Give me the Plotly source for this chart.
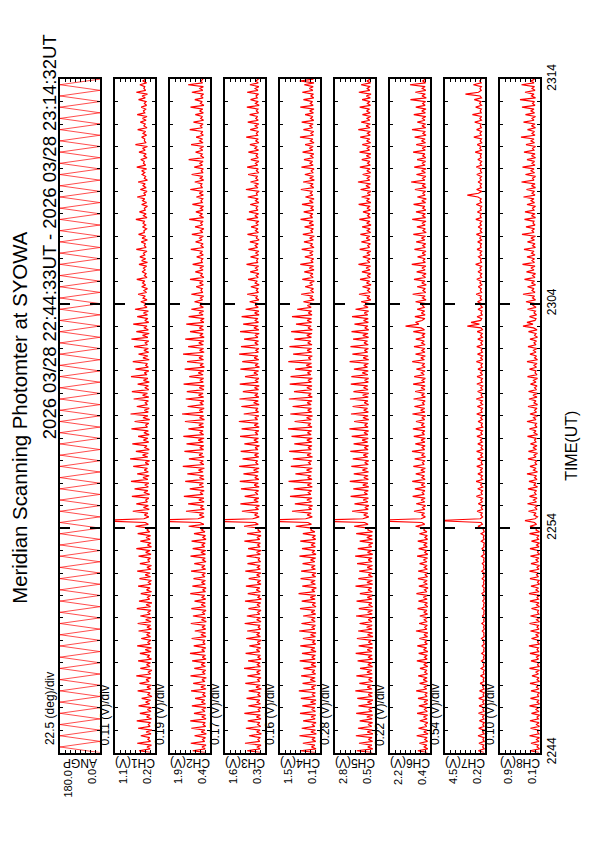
import plotly.graph_objects as go
import pandas as pd

T0 = "2026-03-28 22:44:00"
T1 = "2026-03-28 23:14:00"

panel_names = ["ANGP", "CH1(V)", "CH2(V)", "CH3(V)", "CH4(V)", "CH5(V)", "CH6(V)", "CH7(V)", "CH8(V)"]
scale_labels = ["22.5 (deg)/div", "0.11 (V)/div", "0.19 (V)/div", "0.17 (V)/div", "0.16 (V)/div",
                "0.28 (V)/div", "0.22 (V)/div", "0.54 (V)/div", "0.10 (V)/div"]
axis_hi = [180.0, 1.1, 1.9, 1.6, 1.5, 2.8, 2.2, 4.5, 0.9]
axis_lo = [0.0, 0.2, 0.4, 0.3, 0.1, 0.5, 0.4, 0.2, 0.1]

# scan angle (deg), sampled every 15 s
angp = [0, 180, 0, 180, 0, 180, 0, 180, 0, 180, 0, 180, 0, 180, 0, 180, 0, 180, 0, 180,
        0, 180, 0, 180, 0, 180, 0, 180, 0, 180, 0, 180, 0, 180, 0, 180, 0, 180, 0, 180,
        0, 180, 0, 180, 0, 180, 0, 180, 0, 180, 0, 180, 0, 180, 0, 180, 0, 180, 0, 180,
        0, 180, 0, 180, 0, 180, 0, 180, 0, 180, 0, 180, 0, 180, 0, 180, 0, 180, 0, 180,
        0, 180, 0, 180, 0, 180, 0, 180, 0, 180, 0, 180, 0, 180, 0, 180, 0, 180, 0, 180,
        0, 180, 0, 180, 0, 180, 0, 180, 0, 180, 0, 180, 0, 180, 0, 180, 0, 180, 0, 180, 0]

# channel voltages (V), sampled every 5 s from 22:44:00 (one row = 2 minutes)
ch1 = [0.29,0.56,0.31,0.38,0.28,0.60,0.30,0.36,0.32,0.52,0.29,0.40,0.27,0.58,0.31,0.35,0.30,0.61,0.28,0.39,0.31,0.54,0.29,0.37,
       0.28,0.57,0.32,0.41,0.30,0.50,0.27,0.36,0.31,0.59,0.29,0.38,0.28,0.55,0.33,0.40,0.29,0.62,0.30,0.35,0.27,0.53,0.31,0.39,
       0.30,0.58,0.28,0.37,0.32,0.54,0.29,0.42,0.28,0.60,0.31,0.36,0.29,0.51,0.30,0.39,0.31,0.57,0.28,0.38,0.30,0.59,0.29,0.41,
       0.28,0.53,0.31,0.36,0.29,0.61,0.30,0.40,0.27,0.56,0.32,0.37,0.30,0.52,0.28,0.39,0.31,0.58,0.29,0.35,0.28,0.55,0.30,0.42,
       0.31,0.60,0.29,0.38,0.28,0.54,0.32,0.36,0.30,0.57,0.29,0.41,0.31,0.62,0.28,0.37,0.29,0.53,0.31,0.40,0.30,0.59,0.32,0.38,
       0.33,0.64,0.35,0.42,1.60,0.45,0.34,0.44,0.36,0.70,0.33,0.46,0.35,0.62,0.37,0.41,0.34,0.72,0.32,0.45,0.36,0.66,0.35,0.43,
       0.34,0.74,0.36,0.47,0.33,0.60,0.35,0.44,0.37,0.69,0.34,0.42,0.32,0.76,0.36,0.48,0.35,0.63,0.33,0.43,0.38,0.71,0.34,0.46,
       0.36,0.58,0.33,0.45,0.35,0.73,0.37,0.41,0.34,0.66,0.32,0.47,0.36,0.75,0.35,0.44,0.33,0.61,0.37,0.42,0.35,0.68,0.34,0.48,
       0.37,0.72,0.34,0.43,0.35,0.59,0.33,0.46,0.36,0.74,0.38,0.44,0.34,0.64,0.35,0.41,0.37,0.70,0.33,0.47,0.36,0.57,0.34,0.45,
       0.35,0.67,0.37,0.42,0.34,0.73,0.36,0.48,0.33,0.62,0.35,0.44,0.38,0.69,0.34,0.43,0.36,0.60,0.37,0.46,0.35,0.65,0.38,0.44,
       0.40,0.52,0.38,0.47,0.42,0.58,0.39,0.45,0.37,0.50,0.41,0.48,0.43,0.61,0.38,0.44,0.40,0.49,0.42,0.46,0.39,0.56,0.37,0.50,
       0.41,0.54,0.43,0.46,0.38,0.62,0.40,0.44,0.42,0.51,0.37,0.49,0.41,0.57,0.44,0.45,0.39,0.48,0.41,0.47,0.43,0.63,0.38,0.46,
       0.40,0.55,0.42,0.44,0.37,0.50,0.39,0.48,0.43,0.60,0.41,0.45,0.38,0.53,0.40,0.47,0.42,0.58,0.37,0.44,0.41,0.49,0.43,0.50,
       0.39,0.61,0.41,0.46,0.44,0.52,0.38,0.45,0.40,0.56,0.42,0.48,0.37,0.64,0.40,0.44,0.43,0.50,0.39,0.47,0.41,0.59,0.38,0.45,
       0.42,0.53,0.40,0.48,0.38,0.60,0.43,0.46,0.41,0.51,0.39,0.44,0.40,0.57,0.42,0.49,0.37,0.62,0.41,0.45,0.43,0.54,0.39,0.47,0.41]
ch2 = [0.56,1.05,0.58,0.70,0.55,1.12,0.60,0.68,0.57,0.98,0.54,0.73,0.59,1.10,0.56,0.66,0.58,1.14,0.55,0.71,0.57,1.00,0.59,0.69,
       0.55,1.08,0.57,0.72,0.60,0.96,0.56,0.67,0.58,1.11,0.55,0.74,0.57,1.03,0.59,0.70,0.54,1.13,0.58,0.68,0.56,0.99,0.57,0.73,
       0.58,1.07,0.55,0.69,0.57,1.15,0.60,0.71,0.56,1.01,0.58,0.66,0.59,1.09,0.55,0.74,0.57,0.97,0.56,0.70,0.58,1.12,0.54,0.72,
       0.56,1.04,0.59,0.68,0.55,1.10,0.57,0.73,0.58,0.98,0.56,0.70,0.60,1.14,0.57,0.67,0.55,1.06,0.58,0.72,0.57,1.02,0.59,0.69,
       0.57,1.11,0.56,0.71,0.59,0.99,0.55,0.68,0.58,1.13,0.57,0.74,0.56,1.05,0.60,0.70,0.58,1.09,0.55,0.67,0.57,1.00,0.59,0.72,
       0.61,1.20,0.63,0.78,3.00,0.85,0.62,0.80,0.64,1.30,0.61,0.76,0.65,1.22,0.62,0.82,0.63,1.38,0.66,0.77,0.62,1.16,0.64,0.80,
       0.65,1.33,0.62,0.79,0.64,1.25,0.66,0.83,0.61,1.42,0.63,0.76,0.65,1.19,0.62,0.81,0.67,1.36,0.64,0.78,0.63,1.28,0.65,0.84,
       0.62,1.40,0.64,0.77,0.66,1.21,0.63,0.82,0.65,1.34,0.61,0.79,0.64,1.45,0.66,0.80,0.62,1.24,0.65,0.76,0.63,1.31,0.64,0.83,
       0.66,1.27,0.63,0.80,0.62,1.39,0.65,0.78,0.64,1.18,0.66,0.84,0.63,1.35,0.61,0.77,0.65,1.26,0.64,0.81,0.66,1.41,0.62,0.79,
       0.64,1.22,0.65,0.82,0.63,1.33,0.62,0.78,0.66,1.15,0.64,0.80,0.65,1.29,0.63,0.76,0.62,1.20,0.66,0.81,0.64,1.10,0.65,0.78,
       0.66,0.98,0.68,0.76,0.64,1.10,0.67,0.74,0.69,0.92,0.65,0.79,0.66,1.15,0.63,0.75,0.68,0.95,0.66,0.78,0.64,1.05,0.69,0.73,
       0.67,0.90,0.65,0.77,0.68,1.12,0.64,0.74,0.66,0.94,0.70,0.79,0.65,1.08,0.67,0.76,0.63,0.96,0.68,0.75,0.66,1.18,0.64,0.78,
       0.68,0.93,0.66,0.76,0.64,1.06,0.69,0.74,0.67,0.91,0.65,0.80,0.66,1.14,0.68,0.75,0.70,0.97,0.64,0.77,0.67,1.09,0.66,0.73,
       0.65,0.99,0.68,0.78,0.66,1.20,0.63,0.75,0.69,0.94,0.67,0.77,0.64,1.11,0.66,0.79,0.68,0.92,0.65,0.74,0.67,1.16,0.69,0.76,
       0.66,1.02,0.64,0.75,0.68,0.95,0.65,0.79,0.67,1.13,0.63,0.76,0.69,0.97,0.66,0.74,0.64,1.08,0.67,0.78,0.65,1.22,0.68,0.75,0.66]
ch3 = [0.44,0.88,0.46,0.55,0.43,0.95,0.47,0.53,0.45,0.82,0.42,0.57,0.46,0.92,0.44,0.54,0.47,0.86,0.43,0.58,0.45,0.97,0.46,0.52,
       0.43,0.84,0.45,0.56,0.47,0.90,0.44,0.53,0.46,0.83,0.42,0.59,0.45,0.94,0.47,0.54,0.43,0.87,0.46,0.57,0.44,0.98,0.45,0.55,
       0.46,0.85,0.43,0.53,0.45,0.93,0.47,0.58,0.44,0.81,0.46,0.55,0.42,0.91,0.45,0.56,0.47,0.88,0.44,0.52,0.46,0.96,0.43,0.57,
       0.45,0.89,0.47,0.54,0.43,0.84,0.46,0.56,0.44,0.95,0.42,0.53,0.46,0.86,0.45,0.58,0.47,0.92,0.43,0.55,0.44,0.83,0.46,0.57,
       0.43,0.94,0.45,0.55,0.46,0.87,0.44,0.52,0.47,0.90,0.45,0.57,0.42,0.85,0.46,0.54,0.45,0.97,0.47,0.56,0.43,0.88,0.44,0.53,
       0.50,0.98,0.52,0.62,2.80,0.70,0.49,0.64,0.53,1.05,0.51,0.60,0.48,1.10,0.52,0.66,0.50,0.96,0.53,0.61,0.51,1.08,0.49,0.65,
       0.52,1.12,0.50,0.63,0.53,1.00,0.51,0.67,0.49,1.14,0.52,0.60,0.54,1.03,0.50,0.64,0.51,1.09,0.53,0.62,0.48,0.97,0.52,0.66,
       0.51,1.11,0.53,0.61,0.50,1.06,0.49,0.65,0.52,1.15,0.54,0.63,0.50,0.99,0.51,0.60,0.53,1.07,0.49,0.67,0.52,1.13,0.50,0.62,
       0.53,1.02,0.51,0.64,0.49,1.12,0.52,0.61,0.50,0.95,0.53,0.66,0.51,1.10,0.48,0.62,0.52,1.04,0.50,0.65,0.53,1.14,0.51,0.60,
       0.50,1.08,0.52,0.63,0.51,0.98,0.53,0.61,0.49,1.11,0.50,0.66,0.52,1.01,0.51,0.62,0.53,1.06,0.49,0.64,0.50,0.93,0.52,0.61,
       0.52,0.80,0.50,0.60,0.54,0.88,0.51,0.58,0.53,0.76,0.49,0.62,0.55,0.85,0.52,0.59,0.50,0.78,0.53,0.61,0.51,0.90,0.54,0.57,
       0.53,0.77,0.51,0.60,0.50,0.84,0.54,0.62,0.52,0.79,0.49,0.58,0.55,0.87,0.51,0.61,0.53,0.75,0.52,0.59,0.50,0.89,0.53,0.63,
       0.51,0.82,0.53,0.59,0.54,0.78,0.50,0.61,0.52,0.86,0.55,0.58,0.49,0.92,0.53,0.62,0.51,0.77,0.52,0.60,0.54,0.85,0.50,0.58,
       0.52,0.88,0.54,0.61,0.50,0.76,0.52,0.59,0.53,0.84,0.51,0.63,0.55,0.79,0.50,0.60,0.52,0.91,0.54,0.58,0.51,0.78,0.53,0.62,
       0.50,0.86,0.52,0.60,0.54,0.80,0.51,0.58,0.53,0.89,0.49,0.61,0.52,0.77,0.55,0.59,0.51,0.88,0.53,0.62,0.50,0.79,0.52,0.60,0.51]
ch4 = [0.26,0.78,0.24,0.40,0.28,0.70,0.25,0.38,0.27,0.82,0.23,0.42,0.26,0.74,0.28,0.37,0.24,0.69,0.27,0.41,0.25,0.80,0.26,0.39,
       0.28,0.72,0.25,0.43,0.24,0.77,0.27,0.38,0.26,0.84,0.28,0.40,0.23,0.71,0.26,0.44,0.27,0.76,0.25,0.37,0.28,0.68,0.24,0.41,
       0.25,0.81,0.27,0.39,0.26,0.73,0.24,0.42,0.28,0.79,0.25,0.36,0.27,0.70,0.26,0.43,0.24,0.83,0.28,0.38,0.26,0.75,0.27,0.40,
       0.27,0.69,0.25,0.41,0.28,0.80,0.24,0.37,0.26,0.74,0.27,0.44,0.25,0.85,0.28,0.39,0.23,0.72,0.26,0.42,0.27,0.78,0.25,0.38,
       0.24,0.76,0.26,0.40,0.27,0.71,0.28,0.43,0.25,0.82,0.24,0.38,0.28,0.73,0.26,0.41,0.27,0.79,0.25,0.36,0.26,0.70,0.28,0.42,
       0.38,0.95,0.40,0.52,2.60,0.60,0.37,0.55,0.41,1.08,0.39,0.50,0.36,0.98,0.40,0.56,0.38,1.15,0.42,0.51,0.39,1.02,0.37,0.54,
       0.40,1.20,0.38,0.53,0.41,0.96,0.39,0.57,0.37,1.12,0.42,0.50,0.39,1.05,0.36,0.55,0.41,1.18,0.40,0.52,0.38,1.00,0.39,0.56,
       0.37,1.10,0.41,0.54,0.39,1.22,0.38,0.51,0.42,0.99,0.40,0.57,0.36,1.14,0.39,0.53,0.40,1.06,0.41,0.55,0.38,1.19,0.37,0.50,
       0.41,1.01,0.39,0.56,0.38,1.16,0.40,0.52,0.37,1.13,0.42,0.54,0.39,0.97,0.38,0.58,0.40,1.21,0.41,0.51,0.37,1.04,0.39,0.55,
       0.39,1.17,0.38,0.53,0.42,1.00,0.40,0.56,0.38,1.11,0.37,0.52,0.41,0.94,0.39,0.55,0.40,1.08,0.38,0.51,0.39,0.90,0.41,0.54,
       0.34,0.68,0.31,0.44,0.35,0.76,0.32,0.42,0.33,0.62,0.36,0.46,0.30,0.72,0.34,0.43,0.35,0.65,0.31,0.47,0.33,0.79,0.34,0.41,
       0.32,0.63,0.35,0.45,0.34,0.74,0.31,0.43,0.36,0.66,0.33,0.46,0.30,0.70,0.35,0.42,0.33,0.64,0.32,0.48,0.34,0.78,0.36,0.44,
       0.35,0.67,0.32,0.42,0.33,0.73,0.34,0.47,0.31,0.61,0.35,0.44,0.36,0.77,0.32,0.43,0.34,0.69,0.30,0.46,0.33,0.63,0.35,0.41,
       0.31,0.75,0.34,0.45,0.36,0.66,0.33,0.43,0.32,0.71,0.35,0.47,0.34,0.62,0.31,0.44,0.35,0.80,0.33,0.42,0.32,0.68,0.36,0.46,
       0.34,0.74,0.32,0.43,0.35,0.62,0.33,0.46,0.31,0.79,0.34,0.44,0.36,0.68,0.32,0.42,0.33,0.72,0.35,0.47,0.34,0.65,0.31,0.81,0.33]
ch5 = [0.66,1.55,0.63,0.92,0.68,1.42,0.64,0.88,0.67,1.60,0.62,0.95,0.65,1.48,0.69,0.90,0.64,1.38,0.66,0.97,0.63,1.58,0.67,0.86,
       0.65,1.45,0.68,0.93,0.62,1.52,0.66,0.89,0.64,1.63,0.67,0.94,0.69,1.40,0.63,0.87,0.66,1.57,0.65,0.96,0.68,1.36,0.64,0.91,
       0.67,1.50,0.64,0.90,0.66,1.61,0.68,0.95,0.63,1.44,0.65,0.88,0.69,1.54,0.62,0.93,0.64,1.47,0.67,0.98,0.66,1.39,0.68,0.89,
       0.63,1.59,0.66,0.92,0.65,1.43,0.64,0.87,0.68,1.56,0.67,0.94,0.62,1.37,0.66,0.90,0.69,1.62,0.63,0.96,0.65,1.46,0.64,0.88,
       0.68,1.41,0.65,0.95,0.64,1.53,0.67,0.89,0.66,1.64,0.63,0.93,0.67,1.49,0.69,0.87,0.62,1.38,0.65,0.97,0.66,1.58,0.64,0.91,
       0.88,1.70,0.90,1.10,4.50,1.20,0.86,1.15,0.92,1.82,0.89,1.08,0.85,1.68,0.91,1.18,0.88,1.90,0.93,1.12,0.89,1.75,0.86,1.20,
       0.91,1.95,0.88,1.14,0.90,1.72,0.87,1.22,0.93,1.86,0.89,1.09,0.86,1.78,0.91,1.17,0.88,1.92,0.90,1.11,0.87,1.73,0.92,1.24,
       0.89,1.84,0.91,1.13,0.87,1.97,0.90,1.10,0.92,1.70,0.86,1.19,0.90,1.88,0.88,1.15,0.93,1.79,0.87,1.12,0.91,1.94,0.89,1.21,
       0.86,1.74,0.90,1.16,0.92,1.89,0.88,1.10,0.87,1.86,0.91,1.23,0.89,1.71,0.93,1.14,0.88,1.96,0.86,1.18,0.90,1.80,0.92,1.11,
       0.88,1.91,0.89,1.13,0.93,1.76,0.87,1.20,0.90,1.85,0.86,1.09,0.91,1.68,0.88,1.16,0.89,1.82,0.92,1.12,0.87,1.62,0.90,1.15,
       0.78,1.30,0.74,0.96,0.80,1.42,0.76,0.93,0.79,1.22,0.73,0.99,0.81,1.36,0.77,0.95,0.75,1.25,0.79,1.01,0.76,1.45,0.80,0.94,
       0.77,1.20,0.79,0.97,0.74,1.38,0.81,0.92,0.76,1.28,0.78,1.00,0.80,1.34,0.75,0.95,0.78,1.24,0.73,0.98,0.79,1.40,0.77,0.93,
       0.80,1.19,0.76,0.96,0.78,1.44,0.74,0.99,0.81,1.27,0.77,0.94,0.73,1.33,0.79,1.02,0.76,1.48,0.80,0.95,0.78,1.21,0.75,0.97,
       0.79,1.37,0.77,0.93,0.80,1.26,0.76,1.00,0.74,1.39,0.81,0.95,0.78,1.23,0.75,0.98,0.80,1.35,0.77,0.94,0.76,1.46,0.79,1.01,
       0.77,1.29,0.80,0.96,0.75,1.22,0.78,0.99,0.81,1.38,0.76,0.94,0.79,1.24,0.77,1.00,0.73,1.43,0.80,0.95,0.78,1.30,0.76,0.97,0.77]
ch6 = [0.52,0.95,0.50,0.66,0.54,0.88,0.51,0.64,0.53,1.00,0.49,0.68,0.52,0.92,0.55,0.63,0.50,0.86,0.53,0.69,0.51,0.98,0.52,0.65,
       0.54,0.90,0.51,0.67,0.50,0.94,0.53,0.62,0.52,1.02,0.55,0.66,0.49,0.87,0.52,0.70,0.53,0.93,0.51,0.64,0.54,0.85,0.50,0.68,
       0.51,0.99,0.53,0.65,0.52,0.91,0.50,0.69,0.55,0.97,0.52,0.63,0.53,0.88,0.51,0.67,0.50,1.03,0.54,0.64,0.52,0.89,0.53,0.66,
       0.53,0.86,0.51,0.68,0.54,0.96,0.50,0.63,0.52,0.92,0.53,0.70,0.51,1.01,0.54,0.65,0.49,0.90,0.52,0.67,0.53,0.94,0.51,0.62,
       0.50,0.93,0.52,0.66,0.53,0.87,0.54,0.69,0.51,0.98,0.50,0.64,0.54,0.91,0.52,0.67,0.53,0.95,0.51,0.63,0.52,0.88,0.54,0.68,
       0.62,1.05,0.64,0.76,3.40,0.80,0.61,0.78,0.65,1.12,0.63,0.74,0.60,1.02,0.64,0.80,0.62,1.18,0.66,0.75,0.63,1.08,0.61,0.79,
       0.64,1.20,0.62,0.77,0.65,1.04,0.63,0.81,0.61,1.15,0.66,0.74,0.63,1.09,0.60,0.78,0.65,1.21,0.64,0.76,0.62,1.06,0.63,0.80,
       0.61,1.13,0.65,0.75,0.63,1.17,0.62,0.79,0.66,1.03,0.64,0.77,0.60,1.19,0.63,0.82,0.64,1.10,0.65,0.74,0.62,1.14,0.61,0.78,
       0.65,1.07,0.63,0.80,0.62,1.16,0.64,0.76,0.61,1.11,0.66,0.79,0.63,1.01,0.62,0.75,0.64,1.20,0.65,0.81,0.61,1.05,0.63,0.77,
       0.63,1.12,0.62,0.78,0.66,1.04,0.64,0.75,0.62,1.15,0.65,0.80,1.50,0.90,1.05,0.76,0.63,1.08,0.62,0.79,0.64,0.98,0.66,0.74,
       0.60,1.05,0.58,0.74,0.62,1.18,0.59,0.72,0.61,0.98,0.57,0.77,0.63,1.12,0.60,0.73,0.58,1.00,0.62,0.76,0.59,1.22,0.61,0.71,
       0.62,0.96,0.60,0.75,0.58,1.10,0.61,0.73,0.59,1.02,0.63,0.78,0.60,1.15,0.57,0.72,0.61,0.99,0.62,0.76,0.58,1.20,0.60,0.74,
       0.61,1.03,0.59,0.73,0.63,1.14,0.60,0.77,0.57,0.97,0.62,0.72,0.60,1.08,0.58,0.75,0.61,1.25,0.63,0.74,0.59,1.01,0.61,0.78,
       0.58,1.11,0.62,0.76,0.60,0.98,0.59,0.73,0.63,1.16,0.61,0.75,0.57,1.02,0.60,0.78,0.62,1.09,0.58,0.72,0.61,1.21,0.59,0.76,
       0.60,0.97,0.63,0.74,0.59,1.13,0.61,0.77,0.58,1.04,0.62,0.73,0.60,1.28,0.57,0.76,0.61,1.06,0.59,0.75,0.62,1.30,0.60,0.73,0.61]
ch7 = [0.30,0.92,0.28,0.45,0.32,0.85,0.29,0.42,0.31,0.95,0.27,0.47,0.30,0.88,0.32,0.44,0.28,0.80,0.31,0.46,0.29,0.90,0.30,0.43,
       0.31,0.83,0.28,0.45,0.30,0.87,0.32,0.41,0.29,0.78,0.30,0.44,0.28,0.72,0.31,0.40,0.30,0.68,0.29,0.39,0.27,0.62,0.30,0.38,
       0.28,0.58,0.29,0.36,0.27,0.55,0.30,0.35,0.28,0.52,0.27,0.37,0.29,0.57,0.28,0.34,0.30,0.49,0.27,0.36,0.28,0.54,0.29,0.35,
       0.27,0.47,0.29,0.34,0.28,0.51,0.30,0.36,0.27,0.45,0.28,0.33,0.29,0.53,0.27,0.35,0.28,0.48,0.30,0.37,0.27,0.50,0.29,0.34,
       0.28,0.55,0.27,0.36,0.30,0.49,0.28,0.35,0.29,0.58,0.27,0.37,0.28,0.52,0.30,0.34,0.27,0.60,0.29,0.38,0.30,0.62,0.28,0.40,
       0.45,0.95,0.48,0.62,5.50,0.70,0.46,0.65,0.50,1.05,0.47,0.61,0.44,0.92,0.49,0.66,0.46,1.12,0.50,0.63,0.47,0.98,0.45,0.67,
       0.49,1.15,0.46,0.64,0.48,0.96,0.50,0.68,0.45,1.08,0.47,0.62,0.50,1.00,0.46,0.66,0.48,1.10,0.44,0.63,0.47,0.97,0.49,0.69,
       0.46,1.06,0.50,0.65,0.47,1.18,0.45,0.61,0.49,0.94,0.48,0.67,0.44,1.09,0.50,0.64,0.47,1.02,0.46,0.68,0.49,1.14,0.45,0.62,
       0.50,0.99,0.47,0.66,0.45,1.07,0.49,0.63,0.48,1.05,0.46,0.69,0.47,0.95,0.50,0.64,0.49,1.12,0.44,0.67,0.46,1.00,0.48,0.62,
       0.47,1.08,0.49,0.65,0.46,0.97,0.48,0.68,0.50,1.04,0.47,0.63,2.10,0.80,1.70,0.66,0.55,1.05,0.50,0.64,0.52,0.95,0.49,0.67,
       0.58,1.00,0.55,0.72,0.60,1.15,0.56,0.70,0.59,0.92,0.54,0.75,0.61,1.08,0.57,0.71,0.55,0.95,0.60,0.74,0.56,1.20,0.58,0.69,
       0.59,0.90,0.57,0.73,0.55,1.05,0.61,0.70,0.58,0.98,0.56,0.76,0.60,1.12,0.54,0.71,0.57,0.93,0.59,0.74,0.55,1.18,0.61,0.72,
       0.57,1.02,0.60,0.71,0.56,1.13,0.58,0.74,0.61,0.96,2.10,0.90,0.55,1.10,0.59,0.72,0.57,0.94,0.60,0.75,0.58,1.08,0.56,0.70,
       0.60,1.14,0.58,0.73,0.56,0.97,0.61,0.71,0.59,1.25,0.57,0.76,0.62,1.03,0.55,0.72,0.58,1.40,0.60,0.74,0.57,1.10,0.59,0.71,
       0.61,1.30,0.58,0.75,0.56,1.55,0.60,0.72,0.59,1.20,0.57,0.78,0.62,1.35,0.58,0.73,2.30,0.90,0.60,0.74,0.59,1.45,0.61,0.76,0.60]
ch8 = [0.12,0.30,0.11,0.16,0.13,0.28,0.12,0.17,0.11,0.31,0.12,0.15,0.13,0.29,0.11,0.17,0.12,0.30,0.13,0.16,0.11,0.27,0.12,0.18,
       0.13,0.31,0.11,0.16,0.12,0.29,0.13,0.15,0.11,0.28,0.12,0.17,0.13,0.30,0.11,0.16,0.12,0.26,0.13,0.18,0.11,0.31,0.12,0.15,
       0.12,0.28,0.13,0.17,0.11,0.30,0.12,0.16,0.13,0.32,0.11,0.15,0.12,0.27,0.13,0.18,0.11,0.29,0.12,0.16,0.13,0.31,0.11,0.17,
       0.11,0.29,0.12,0.15,0.13,0.27,0.11,0.17,0.12,0.30,0.13,0.16,0.11,0.32,0.12,0.18,0.13,0.28,0.11,0.15,0.12,0.30,0.13,0.17,
       0.13,0.31,0.12,0.16,0.11,0.28,0.13,0.18,0.12,0.29,0.11,0.15,0.13,0.30,0.12,0.17,0.11,0.27,0.13,0.16,0.12,0.31,0.11,0.18,
       0.16,0.30,0.17,0.21,0.40,0.20,0.15,0.22,0.18,0.33,0.16,0.20,0.15,0.35,0.17,0.23,0.16,0.31,0.18,0.21,0.17,0.34,0.15,0.22,
       0.18,0.32,0.16,0.21,0.17,0.36,0.15,0.23,0.18,0.30,0.17,0.20,0.16,0.34,0.18,0.22,0.15,0.33,0.17,0.24,0.16,0.29,0.18,0.21,
       0.17,0.35,0.15,0.22,0.18,0.31,0.16,0.20,0.17,0.36,0.18,0.23,0.15,0.30,0.17,0.21,0.16,0.34,0.15,0.22,0.18,0.32,0.16,0.24,
       0.15,0.33,0.17,0.21,0.16,0.29,0.18,0.23,0.15,0.35,0.16,0.20,0.18,0.31,0.17,0.22,0.16,0.36,0.15,0.21,0.17,0.30,0.18,0.23,
       0.16,0.34,0.18,0.22,0.17,0.30,0.15,0.21,0.18,0.33,0.16,0.23,0.44,0.24,0.36,0.20,0.18,0.31,0.17,0.22,0.19,0.35,0.18,0.24,
       0.20,0.38,0.19,0.25,0.21,0.44,0.20,0.26,0.22,0.35,0.19,0.27,0.21,0.41,0.20,0.25,0.19,0.37,0.22,0.28,0.20,0.45,0.21,0.26,
       0.21,0.36,0.20,0.27,0.22,0.42,0.19,0.25,0.20,0.35,0.21,0.28,0.19,0.46,0.22,0.26,0.21,0.38,0.20,0.24,0.22,0.41,0.19,0.27,
       0.20,0.40,0.22,0.25,0.19,0.36,0.21,0.28,0.22,0.43,0.20,0.26,0.21,0.37,0.19,0.27,0.20,0.47,0.22,0.25,0.19,0.39,0.21,0.28,
       0.22,0.45,0.20,0.26,0.21,0.36,0.19,0.27,0.20,0.42,0.22,0.25,0.19,0.38,0.21,0.28,0.22,0.48,0.20,0.26,0.21,0.35,0.19,0.27,
       0.20,0.43,0.22,0.26,0.19,0.39,0.21,0.28,0.22,0.46,0.20,0.25,0.21,0.50,0.19,0.27,0.22,0.40,0.20,0.26,0.21,0.47,0.22,0.28,0.21]

series = [angp, ch1, ch2, ch3, ch4, ch5, ch6, ch7, ch8]
steps = ["15s"] + ["5s"] * 8

# page body has an 8 px margin: figure is 8 px smaller and positions are page px - 8
OFF = 8
W, H = 595 - OFF, 842 - OFF
FONT = "Liberation Sans, Arial, sans-serif"
PX_LEFT0, PX_STEP, PX_W = 60, 55, 40
PX_TOP, PX_BOT = 66, 762


def fx(px):
    return (px - OFF) / W


def fy(py):
    return 1 - (py - OFF) / H


fig = go.Figure()
layout = dict(
    width=W, height=H, margin=dict(l=0, r=0, t=0, b=0),
    paper_bgcolor="white", plot_bgcolor="white", showlegend=False,
    font=dict(family=FONT, color="black", size=12), hovermode=False,
)
annotations = []
n = len(series)
for k in range(n):
    sfx = "" if k == 0 else str(k + 1)
    xa, ya = "x" + sfx, "y" + sfx
    t = pd.date_range(T0, periods=len(series[k]), freq=steps[k])
    fig.add_trace(go.Scatter(
        x=series[k], y=t, mode="lines", xaxis=xa, yaxis=ya,
        line=dict(color="#ff0000", width=0.7 if k == 0 else 1.2),
    ))
    x0 = fx(PX_LEFT0 + PX_STEP * k)
    x1 = fx(PX_LEFT0 + PX_STEP * k + PX_W)
    span = axis_hi[k] - axis_lo[k]
    layout["xaxis" + sfx] = dict(
        domain=[x0, x1], range=[axis_hi[k], axis_lo[k]], anchor=ya,
        showline=True, linecolor="black", linewidth=2, mirror="ticks",
        ticks="inside", ticklen=3, tickwidth=1, tickcolor="black",
        tickmode="linear", tick0=axis_lo[k], dtick=span / 8,
        showticklabels=False, showgrid=False, zeroline=False, fixedrange=True,
    )
    last = (k == n - 1)
    ydom = [fy(PX_BOT), fy(PX_TOP)]
    ydict = dict(
        domain=ydom, range=[T0, T1], anchor=xa, type="date",
        showline=True, linecolor="black", linewidth=2, mirror="ticks",
        ticks="inside", ticklen=10, tickwidth=2, tickcolor="black",
        tick0=T0, dtick=600000,
        minor=dict(dtick=60000, ticklen=3, tickwidth=1, tickcolor="black", ticks="inside"),
        showgrid=False, zeroline=False, fixedrange=True,
        showticklabels=last, side="right" if last else "left",
        tickformat="%H%M", tickangle=-90, tickfont=dict(size=12, family=FONT),
    )
    if k > 0:
        ydict["matches"] = "y"
    layout["yaxis" + sfx] = ydict
    # 5-minute medium ticks on an overlaid axis
    layout["yaxis" + str(n + 1 + k)] = dict(
        domain=ydom, range=[T0, T1], anchor=xa, type="date", overlaying=ya,
        showline=False, mirror="ticks", ticks="inside", ticklen=6, tickwidth=1.5,
        tickcolor="black", tick0=T0, dtick=300000, showticklabels=False,
        showgrid=False, zeroline=False, fixedrange=True, side="left",
    )

    annotations.append(dict(
        text=scale_labels[k], textangle=-90, showarrow=False,
        xref=xa + " domain", x=0, xanchor="right", xshift=-1,
        yref=ya + " domain", y=0, yanchor="bottom", yshift=5,
        font=dict(size=12, family=FONT),
    ))
    annotations.append(dict(
        text=panel_names[k], textangle=180, showarrow=False,
        xref=xa + " domain", x=0.5, xanchor="center",
        yref=ya + " domain", y=0, yanchor="top", yshift=-2,
        font=dict(size=12, family=FONT),
    ))
    annotations.append(dict(
        text=f"{axis_hi[k]:.1f}", textangle=-90, showarrow=False,
        xref=xa, x=axis_hi[k], xanchor="left",
        yref=ya + " domain", y=0, yanchor="top", yshift=-15,
        font=dict(size=11, family=FONT),
    ))
    annotations.append(dict(
        text=f"{axis_lo[k]:.1f}", textangle=-90, showarrow=False,
        xref=xa, x=axis_lo[k], xanchor="right",
        yref=ya + " domain", y=0, yanchor="top", yshift=-15,
        font=dict(size=11, family=FONT),
    ))

annotations.append(dict(
    text="Meridian Scanning Photomter at SYOWA", textangle=-90, showarrow=False,
    xref="paper", yref="paper", x=fx(20), y=fy(416), xanchor="center", yanchor="middle",
    font=dict(size=20.4, family=FONT),
))
annotations.append(dict(
    text="2026 03/28 22:44:33UT - 2026 03/28 23:14:32UT", textangle=-90, showarrow=False,
    xref="paper", yref="paper", x=fx(49), y=fy(18), xanchor="center", yanchor="top",
    font=dict(size=18.5, family=FONT),
))
annotations.append(dict(
    text="TIME(UT)", textangle=-90, showarrow=False,
    xref="paper", yref="paper", x=fx(572), y=fy(445), xanchor="center", yanchor="middle",
    font=dict(size=16, family=FONT),
))
layout["annotations"] = annotations
fig.update_layout(**layout)
fig.write_html("out.html", config={"displayModeBar": False})
